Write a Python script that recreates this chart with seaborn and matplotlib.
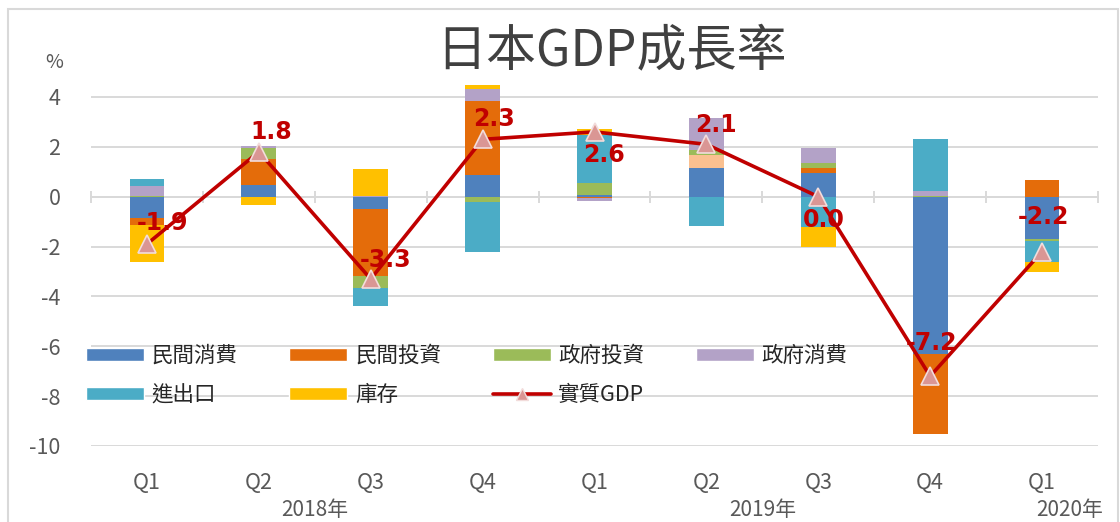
import matplotlib
matplotlib.use("Agg")
import matplotlib.pyplot as plt
from matplotlib.patches import Patch, Rectangle
from matplotlib.lines import Line2D
import numpy as np
import pandas as pd
import seaborn as sns

# data (percentage-point contributions)
quarters = ["Q1", "Q2", "Q3", "Q4", "Q1", "Q2", "Q3", "Q4", "Q1"]
years = ["2018年", "2019年", "2020年"]
year_pos = [1.5, 5.5, 8.25]
series_names = ["民間消費", "民間投資", "政府投資", "政府消費", "進出口", "庫存"]
private_cons = [-0.84, 0.45, -0.51, 0.89, 0.05, 1.17, 0.96, -6.29, -1.71]
private_inv = [-0.29, 1.05, -2.69, 2.95, -0.07, 0.49, 0.20, -3.24, 0.67]
gov_inv = [0.03, 0.47, -0.47, -0.20, 0.48, 0.20, 0.21, 0.03, -0.07]
gov_cons = [0.39, 0.05, 0.03, 0.47, -0.10, 1.31, 0.60, 0.20, 0.00]
net_exports = [0.28, 0.00, -0.73, -2.00, 1.95, -1.17, -1.20, 2.07, -0.83]
inventory = [-1.47, -0.33, 1.07, 0.17, 0.24, 0.00, -0.80, 0.00, -0.43]
gdp = [-1.9, 1.8, -3.3, 2.3, 2.6, 2.1, 0.0, -7.2, -2.2]
gdp_name = "實質GDP"

# styles
colors = ["#4F81BD", "#E46C0A", "#9BBB59", "#B3A2C7", "#4BACC6", "#FFC000"]
peach = "#FAC090"
line_color = "#C00000"
grid_color = "#D9D9D9"
text_gray = "#595959"
label_offsets = [(11, 15), (9, 14), (11, 14), (8, 15), (7, -17),
                 (7, 14), (4, -17), (1, 24), (1, 25)]
ymin, ymax = -10, 4.5

sns.set_theme(style="white")
plt.rcParams["font.family"] = ["Noto Sans CJK TC", "DejaVu Sans"]
plt.rcParams["axes.unicode_minus"] = False

fig = plt.figure(figsize=(11.2, 5.22), dpi=100)
ax = fig.add_axes([91 / 1120, 76 / 522, (1098 - 91) / 1120, 361.5 / 522])

pos = np.arange(len(quarters))
all_series = [private_cons, private_inv, gov_inv, gov_cons, net_exports, inventory]
pos_base = np.zeros(len(pos))
neg_base = np.zeros(len(pos))
for name, vals, col in zip(series_names, all_series, colors):
    vals = np.array(vals)
    bottom = np.where(vals >= 0, pos_base, neg_base)
    df = pd.DataFrame({"q": pos, "v": vals})
    sns.barplot(data=df, x="q", y="v", color=col, saturation=1, width=0.31,
                errorbar=None, bottom=bottom, linewidth=0, ax=ax, zorder=2)
    if name == "民間投資":
        ax.containers[-1].patches[5].set_facecolor(peach)
    pos_base = pos_base + np.where(vals >= 0, vals, 0)
    neg_base = neg_base + np.where(vals < 0, vals, 0)

sns.lineplot(x=pos, y=gdp, ax=ax, color=line_color, lw=2.6, marker="^",
             markersize=13, markerfacecolor="#DA9694", markeredgecolor="#F2DCDB",
             markeredgewidth=1.2, zorder=4)

for x, v, off in zip(pos, gdp, label_offsets):
    ax.annotate(f"{v:.1f}", (x, v), xytext=off, textcoords="offset points",
                ha="center", va="center", fontsize=17, fontweight="bold",
                color=line_color, family="DejaVu Sans", zorder=5)

ax.set_xlim(-0.5, len(quarters) - 0.5)
ax.set_ylim(ymin, ymax)
ax.set_yticks(np.arange(-10, 5, 2))
ax.set_xticks(pos)
ax.set_xticklabels(quarters)
ax.tick_params(axis="y", length=0, pad=22, labelsize=15.5, labelcolor=text_gray)
ax.tick_params(axis="x", length=0, pad=19, labelsize=15.5, labelcolor=text_gray)
ax.set_xlabel("")
ax.set_ylabel("")
ax.yaxis.grid(True, color=grid_color, lw=1.4)
ax.xaxis.grid(False)
ax.set_axisbelow(True)
for s in ax.spines.values():
    s.set_visible(False)

# category axis crossing at zero with tick marks between quarters
zero_frac = (0 - ymin) / (ymax - ymin)
sec = ax.secondary_xaxis(zero_frac)
sec.set_xticks(np.arange(-0.5, len(quarters), 1))
sec.tick_params(length=8, direction="inout", color=grid_color, width=1.4,
                labeltop=False, labelbottom=False)
for s in sec.spines.values():
    s.set_color(grid_color)
    s.set_linewidth(1.4)

for yl, yp in zip(years, year_pos):
    ax.text(yp, -0.177, yl, transform=ax.get_xaxis_transform(), ha="center",
            va="center", fontsize=15, color=text_gray)

fig.text(611 / 1120, 1 - 51 / 522, "日本GDP成長率", ha="center", va="center",
         fontsize=36, color="#404040")
fig.text(54 / 1120, 1 - 63 / 522, "%", ha="center", va="center",
         fontsize=14, color=text_gray)

# legend in row-major order like the original
patches = [Patch(facecolor=c, label=n) for n, c in zip(series_names, colors)]
gdp_handle = Line2D([], [], color=line_color, lw=2.6, marker="^", markersize=9,
                    markerfacecolor="#DA9694", markeredgecolor="#F2DCDB",
                    label=gdp_name)
handles = [patches[0], patches[4], patches[1], patches[5], patches[2],
           gdp_handle, patches[3]]
ax.legend(handles=handles, ncol=4, loc="upper left",
          bbox_to_anchor=(86 / 1120, 1 - 345 / 522), bbox_transform=fig.transFigure,
          frameon=False, fontsize=15.5, handlelength=2.7, handleheight=0.55,
          handletextpad=0.35, columnspacing=2.4, labelspacing=0.8,
          borderpad=0, borderaxespad=0, labelcolor="#262626")

fig.patches.append(Rectangle((8 / 1120, -0.05), 1110 / 1120, 1.05 - 9 / 522,
                             transform=fig.transFigure, fill=False,
                             edgecolor=grid_color, lw=1.5))

fig.savefig("out.png", dpi=100)
plt.close(fig)
